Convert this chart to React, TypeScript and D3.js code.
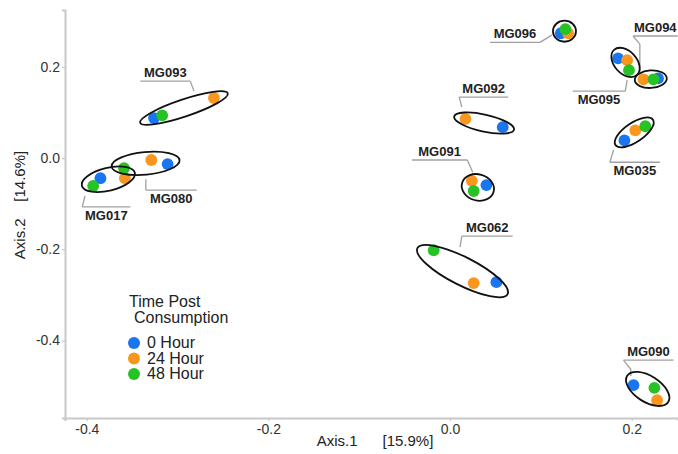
import React, { useEffect, useRef } from 'react';
import * as d3 from 'd3';

const W = 678;
const H = 454;

// ---- data ----
const groups = ['MG017', 'MG080', 'MG093', 'MG092', 'MG091', 'MG096', 'MG095', 'MG094', 'MG035', 'MG062', 'MG090'];
const hour0X = [-0.385, -0.311, -0.326, 0.058, 0.040, 0.122, 0.185, 0.229, 0.192, 0.051, 0.202];
const hour0Y = [-0.044, -0.013, 0.088, 0.068, -0.059, 0.274, 0.219, 0.175, 0.039, -0.272, -0.498];
const hour24X = [-0.358, -0.329, -0.260, 0.017, 0.024, 0.130, 0.195, 0.213, 0.204, 0.026, 0.228];
const hour24Y = [-0.044, -0.004, 0.132, 0.086, -0.050, 0.274, 0.215, 0.173, 0.061, -0.274, -0.531];
const hour48X = [-0.393, -0.359, -0.317, NaN, 0.026, 0.127, 0.197, 0.224, 0.215, -0.018, 0.225];
const hour48Y = [-0.061, -0.022, 0.094, NaN, -0.072, 0.283, 0.193, 0.173, 0.070, -0.202, -0.504];

const timeLabels = ['0 Hour', '24 Hour', '48 Hour'];
const timeColors = ['#1976f0', '#f8961e', '#27c326'];

const xTicks = [-0.4, -0.2, 0.0, 0.2];
const yTicks = [0.2, 0.0, -0.2, -0.4];

// label annotation layout (data units)
const labelLineY = [-0.107, -0.070, 0.169, 0.134, -0.004, 0.254, 0.147, 0.268, -0.009, -0.171, -0.443];
const labelLineX0 = [-0.405, -0.335, -0.341, 0.010, -0.042, 0.044, 0.135, 0.2015, 0.176, 0.013, 0.191];
const labelLineX1 = [-0.352, -0.279, -0.286, 0.064, 0.019, 0.099, 0.193, 0.2505, 0.231, 0.069, 0.246];
const labelAbove = [false, false, true, true, true, true, false, true, false, true, true];
const labelLeaderFromLeft = [true, true, false, true, false, false, false, true, true, true, true];
const labelLeaderPts: [number, number][][] = [
  [[-0.402, -0.083]],
  [[-0.335, -0.046]],
  [[-0.282, 0.147]],
  [[0.013, 0.112]],
  [[0.025, -0.031]],
  [[0.112, 0.270]],
  [[0.195, 0.171]],
  [[0.209, 0.250], [0.209, 0.189]],
  [[0.180, 0.018]],
  [[0.011, -0.195]],
  [[0.199, -0.463], [0.199, -0.478]],
];

const FONT = '"Liberation Sans", Arial, Helvetica, sans-serif';

const x = d3.scaleLinear().domain([-0.424, 0.251]).range([65, 678]);
const y = d3.scaleLinear().domain([-0.57, 0.325]).range([418, 10]);

function ellipseFor(pts: [number, number][]) {
  let bi = 0, bj = pts.length > 1 ? 1 : 0, best = -1;
  for (let i = 0; i < pts.length; i++)
    for (let j = i + 1; j < pts.length; j++) {
      const d = Math.hypot(pts[j][0] - pts[i][0], pts[j][1] - pts[i][1]);
      if (d > best) { best = d; bi = i; bj = j; }
    }
  const p0 = pts[bi];
  const dx = pts[bj][0] - p0[0], dy = pts[bj][1] - p0[1];
  const len = Math.hypot(dx, dy) || 1;
  const ux = dx / len, uy = dy / len;
  const vx = -uy, vy = ux;
  let sMin = Infinity, sMax = -Infinity, tMin = Infinity, tMax = -Infinity;
  pts.forEach(p => {
    const rx = p[0] - p0[0], ry = p[1] - p0[1];
    const s = rx * ux + ry * uy;
    const t = rx * vx + ry * vy;
    sMin = Math.min(sMin, s); sMax = Math.max(sMax, s);
    tMin = Math.min(tMin, t); tMax = Math.max(tMax, t);
  });
  const sc = (sMin + sMax) / 2, tc = (tMin + tMax) / 2;
  const cx = p0[0] + ux * sc + vx * tc;
  const cy = p0[1] + uy * sc + vy * tc;
  const dist = sMax - sMin;
  const a = dist / 2 + 7 + 0.12 * dist;
  const b = (tMax - tMin) / 2 + 8.5;
  const ang = (Math.atan2(uy, ux) * 180) / Math.PI;
  return { cx, cy, a, b, ang };
}

export default function App() {
  const xAxisRef = useRef<SVGGElement>(null);
  const yAxisRef = useRef<SVGGElement>(null);

  useEffect(() => {
    const xa = d3.axisBottom(x).tickValues(xTicks).tickFormat((d: any) => (+d).toFixed(1)).tickSizeOuter(0).tickSize(3).tickPadding(3);
    const ya = d3.axisLeft(y).tickValues(yTicks).tickFormat((d: any) => (+d).toFixed(1)).tickSizeOuter(0).tickSize(3).tickPadding(2);
    const gx = d3.select(xAxisRef.current!);
    gx.call(xa as any);
    const gy = d3.select(yAxisRef.current!);
    gy.call(ya as any);
    [gx, gy].forEach(g => {
      g.select('.domain').attr('stroke', '#c8c8c8').attr('stroke-width', 2);
      g.selectAll('.tick line').attr('stroke', '#c8c8c8').attr('stroke-width', 1.2);
      g.selectAll('.tick text').attr('fill', '#333').style('font-size', '14px').style('font-family', FONT);
    });
  }, []);

  const xsArr = [hour0X, hour24X, hour48X];
  const ysArr = [hour0Y, hour24Y, hour48Y];

  const ellipses = groups.map((g, gi) => {
    const pts: [number, number][] = [];
    for (let t = 0; t < 3; t++) {
      const vx = xsArr[t][gi], vy = ysArr[t][gi];
      if (!isNaN(vx) && !isNaN(vy)) pts.push([x(vx), y(vy)]);
    }
    return ellipseFor(pts);
  });

  return (
    <svg width={W} height={H} style={{ position: 'absolute', left: 0, top: 0, background: '#fff' }} fontFamily={FONT}>
      <g ref={yAxisRef} transform={`translate(${x.range()[0]},0)`} />
      <g ref={xAxisRef} transform={`translate(0,${y.range()[0]})`} />

      {/* axis titles */}
      <text x={375} y={446} textAnchor="middle" fontSize={15} fill="#222" style={{ whiteSpace: 'pre' }}>
        {'Axis.1      [15.9%]'}
      </text>
      <text transform={`translate(25,205) rotate(-90)`} textAnchor="middle" fontSize={15} fill="#222" style={{ whiteSpace: 'pre' }}>
        {'Axis.2    [14.6%]'}
      </text>

      {/* label leader lines */}
      {groups.map((g, gi) => {
        const ly = y(labelLineY[gi]);
        const x0 = x(labelLineX0[gi]);
        const x1 = x(labelLineX1[gi]);
        const start: [number, number] = labelLeaderFromLeft[gi] ? [x0, ly] : [x1, ly];
        const pts: [number, number][] = [start, ...labelLeaderPts[gi].map(p => [x(p[0]), y(p[1])] as [number, number])];
        return (
          <g key={'lab' + g}>
            <line x1={x0} x2={x1} y1={ly} y2={ly} stroke="#a0a0a0" strokeWidth={1.3} />
            <path d={d3.line()(pts) || ''} fill="none" stroke="#a0a0a0" strokeWidth={1.3} />
            <text
              x={(x0 + x1) / 2}
              y={labelAbove[gi] ? ly - 4 : ly + 13}
              textAnchor="middle"
              fontSize={13}
              fontWeight="bold"
              fill="#222"
            >
              {g}
            </text>
          </g>
        );
      })}

      {/* points */}
      {groups.map((g, gi) => (
        <g key={'pts' + g}>
          {[0, 1, 2].map(t => {
            const vx = xsArr[t][gi], vy = ysArr[t][gi];
            if (isNaN(vx) || isNaN(vy)) return null;
            return <circle key={t} cx={x(vx)} cy={y(vy)} r={5.9} fill={timeColors[t]} />;
          })}
        </g>
      ))}

      {/* ellipses */}
      {ellipses.map((e, i) => (
        <ellipse
          key={'el' + i}
          cx={0}
          cy={0}
          rx={e.a}
          ry={e.b}
          transform={`translate(${e.cx},${e.cy}) rotate(${e.ang})`}
          fill="none"
          stroke="#111"
          strokeWidth={1.8}
        />
      ))}

      {/* legend */}
      <g>
        <text x={129} y={307} fontSize={16} fill="#222">Time Post</text>
        <text x={134} y={323} fontSize={16} fill="#222">Consumption</text>
        {timeLabels.map((lab, i) => (
          <g key={lab}>
            <circle cx={134} cy={343 + i * 15.5} r={6} fill={timeColors[i]} />
            <text x={147} y={348 + i * 15.5} fontSize={16} fill="#222">{lab}</text>
          </g>
        ))}
      </g>
    </svg>
  );
}
